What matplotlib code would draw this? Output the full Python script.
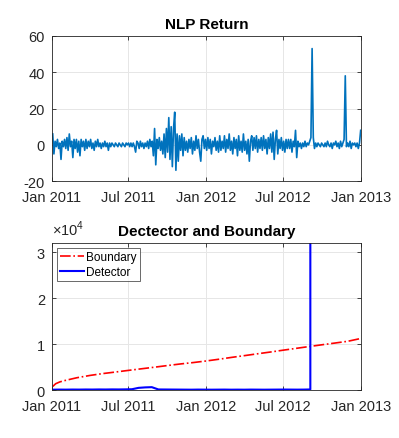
import numpy as np
import pandas as pd
import matplotlib
matplotlib.use("Agg")
import matplotlib.pyplot as plt
import matplotlib.dates as mdates
from matplotlib.ticker import FuncFormatter

plt.rcParams["font.family"] = ["Liberation Sans", "DejaVu Sans"]
plt.rcParams["axes.unicode_minus"] = False
plt.rcParams["mathtext.fontset"] = "custom"
plt.rcParams["mathtext.rm"] = "Liberation Sans"

# NLP return, sampled roughly every other trading day (2011-01-03 .. 2012-12-31)
nlp_return = [
    6, -5, 2, -1, 3, -2, 1, -8, 2, -1,
    3, -2, 4, -3, 6, -1, 2, -7, 3, -2,
    3, -4, 2, -6, 3, -1, 2, -3, 3, -2,
    2, -1, 3, -2, 1, -3, 2, -1, 3, -1,
    1, -2, 1, -1, 2, -1, 1, -3, 1, -1,
    1, 0, -1, 1, 0, -1, 1, 0, -1, 1,
    0, -1, 1, 0, 1, -1, 1, -1, 1, -1,
    -4, 2, 1, -2, 2, -1, 1, -2, 1, -1,
    2, -2, 3, -1, 2, -6, 9, -11, 3, -2,
    4, -3, 2, -5, 6, -7, 9, -4, 15, -8,
    10, -12, 9, 18, -14, 6, -9, 5, -3, 6,
    -6, 4, -3, 2, -4, 3, -2, 4, -5, 2,
    -3, 5, -2, 3, -4, -9, 3, 5, -2, 3,
    -3, 4, -2, 3, -5, 2, -1, 4, -3, 2,
    -4, 5, -3, 2, -2, 5, -4, 3, -2, 6,
    -3, 2, -5, 4, -2, 3, -6, 5, -3, 2,
    -4, 6, -3, 2, -5, 3, -9, 2, 5, -3,
    4, -2, 5, -4, 3, -2, 4, -3, 5, -2,
    3, -5, 4, -2, 6, -4, 7, -8, 3, 8,
    -5, 3, -2, 4, -3, 2, -4, 3, -2, 3,
    -2, 3, -4, 2, -1, 8, -7, 2, -1, 1,
    -2, 1, -1, 2, -1, 1, 0, 2, 4, 53,
    4, -2, 1, -1, 1, 0, -1, 1, 0, -1,
    1, -1, 2, 0, -1, 1, -2, 1, 0, 2,
    -1, 1, -2, 2, -1, 1, 3, 38, -1, 1,
    -1, 2, -2, 1, 0, 1, -1, 1, -2, 1, 8,
]
ret_dates = pd.date_range("2011-01-03", "2012-12-31", periods=len(nlp_return))

bnd_dates = pd.to_datetime([
    "2011-01-03", "2011-01-10", "2011-01-20", "2011-02-01", "2011-03-01",
    "2011-04-01", "2011-05-01", "2011-06-01", "2011-07-01", "2011-08-01",
    "2011-09-01", "2011-10-01", "2011-11-01", "2011-12-01", "2012-01-01",
    "2012-02-01", "2012-03-01", "2012-04-01", "2012-05-01", "2012-06-01",
    "2012-07-01", "2012-08-01", "2012-09-01", "2012-10-01", "2012-11-01",
    "2012-12-01", "2012-12-31",
])
boundary = [800, 1400, 1800, 2100, 2700, 3200, 3600, 3950, 4300, 4650,
            5000, 5350, 5700, 6000, 6350, 6740, 7130, 7520, 7910, 8300,
            8700, 9100, 9500, 9880, 10260, 10640, 11240]

# detector, up to the alarm date
detector = [100, 120, 110, 130, 120, 140, 130, 150, 140, 160,
            150, 170, 200, 500, 600, 650, 150, 140, 130, 120,
            110, 100, 120, 110, 100, 110, 120, 100, 110, 100,
            120, 110, 100, 110, 120, 130, 120, 110, 120, 150]
det_dates = pd.date_range("2011-01-03", "2012-09-03", periods=len(detector))
alarm_date = pd.Timestamp("2012-09-03")
alarm_value = 60000

fig = plt.figure(figsize=(3.99, 4.39), dpi=100)
ax1 = fig.add_axes([0.130, 0.585, 0.775, 0.331])
ax2 = fig.add_axes([0.130, 0.109, 0.775, 0.335])

ax1.plot(ret_dates, nlp_return, color="#0072BD", lw=1.2)
ax1.set_ylim(-20, 60)
ax1.set_yticks([-20, 0, 20, 40, 60])
ax1.set_title("NLP Return", fontsize=11, fontweight="bold", pad=6)

ax2.plot(bnd_dates, boundary, "r-.", lw=1.2, label="Boundary")
ax2.plot(list(det_dates) + [alarm_date], detector + [alarm_value],
         color="b", lw=1.5, label="Detector")
ax2.set_ylim(0, 32000)
ax2.set_yticks([0, 10000, 20000, 30000])
ax2.yaxis.set_major_formatter(FuncFormatter(lambda v, p: f"{v / 1e4:g}"))
ax2.text(0.0, 1.035, r"$\times10^{4}$", transform=ax2.transAxes,
         fontsize=10.5, color="#262626", ha="left", va="bottom")
ax2.set_title("Dectector and Boundary", fontsize=11, fontweight="bold", pad=6)
leg = ax2.legend(loc="upper left", fontsize=8.5, frameon=True, fancybox=False,
                 edgecolor="#262626", handlelength=2.0, borderpad=0.25,
                 labelspacing=0.25, handletextpad=0.2, borderaxespad=0.45)
leg.get_frame().set_linewidth(0.6)

for ax in (ax1, ax2):
    ax.set_xlim(pd.Timestamp("2011-01-01"), pd.Timestamp("2013-01-01"))
    ax.xaxis.set_major_locator(mdates.MonthLocator(bymonth=[1, 7]))
    ax.xaxis.set_major_formatter(mdates.DateFormatter("%b %Y"))
    ax.grid(True, color="#e6e6e6", lw=0.7)
    ax.set_axisbelow(True)
    ax.tick_params(direction="in", length=3, width=0.6, labelsize=10.5,
                   colors="#262626", top=True, right=True, pad=5)
    ax.tick_params(axis="x", pad=6.5)
    for s in ax.spines.values():
        s.set_color("#262626")
        s.set_linewidth(0.6)

fig.savefig("out.png", dpi=100)
